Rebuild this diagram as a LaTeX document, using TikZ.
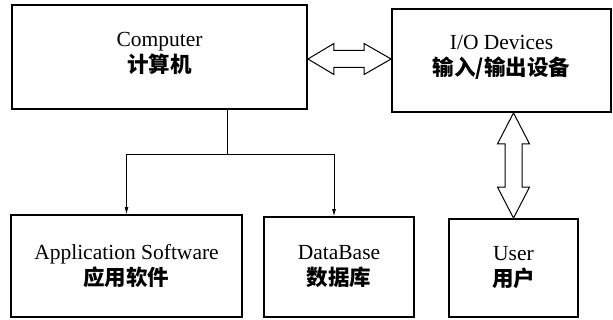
\documentclass[tikz,border=0pt]{standalone}
\usepackage{fontspec}
\setmainfont{Liberation Serif}
\newfontfamily\cjk{Noto Sans CJK SC}
\usetikzlibrary{calc,arrows.meta}
\tikzset{
	box/.style={draw, line width=1.8pt, align=center, inner sep=0pt, font=\fontsize{21.5}{26}\selectfont},
	feed/.style={line width=0.8pt, -{Latex[length=7pt,width=4pt]}},
	hollow/.style={line width=1pt, fill=white, line join=miter}
}
\def\hdblarrow(#1)(#2){\draw[hollow] (#1) -- ++(26,-15.5) -- ++(0,7) -- ($(#2)+(-27,-8.5)$) -- ++(0,-7) -- (#2) -- ++(-27,15.5) -- ++(0,-7) -- ($(#1)+(26,8.5)$) -- ++(0,7) -- cycle;}
\def\vdblarrow(#1)(#2){\draw[hollow] (#1) -- ++(-16,31) -- ++(7.5,0) -- ($(#2)+(-8.5,-31)$) -- ++(-7.5,0) -- (#2) -- ++(16,-31) -- ++(-7.5,0) -- ($(#1)+(8.5,31)$) -- ++(7.5,0) -- cycle;}
\def\zh#1{{\cjk\bfseries #1}}

\begin{document}
\begin{tikzpicture}[x=1pt, y=-1pt]
			%%%%% START %%%%%
			
			\useasboundingbox (0,0) rectangle (613,320);
			
			\node[box, minimum width=295pt, minimum height=104pt] (comp) at (159.5,57) {Computer\\\zh{计算机}\\[-16pt]};
			\node[box, minimum width=219pt, minimum height=103pt] (io) at (501.5,60.5) {I/O Devices\\\zh{输入/输出设备}\\[-16pt]};
			
			\node[box, minimum width=231pt, minimum height=102pt] (app) at (126.5,266) {Application Software\\\zh{应用软件}};
			\node[box, minimum width=150pt, minimum height=100pt] (db) at (339,267) {DataBase\\\zh{数据库}};
			\node[box, minimum width=129pt, minimum height=98pt] (user) at (513.5,268) {User\\\zh{用户}};
			
			\coordinate (trunk) at (227,154);
			\draw[line width=0.8pt] (trunk |- comp.south) -- (trunk);
			\draw[feed] (trunk) -| (app.north);
			\draw[feed] (trunk) -| ($(db.north)+(-5,0)$);
			
			\coordinate (hl) at ($(comp.east)+(0,2)$);
			\coordinate (hr) at (hl -| io.west);
			\hdblarrow(hl)(hr)
			
			\coordinate (vt) at (user.north |- io.south);
			\vdblarrow(vt)(user.north)
			
			%%%%% END %%%%%
\end{tikzpicture}
\end{document}
